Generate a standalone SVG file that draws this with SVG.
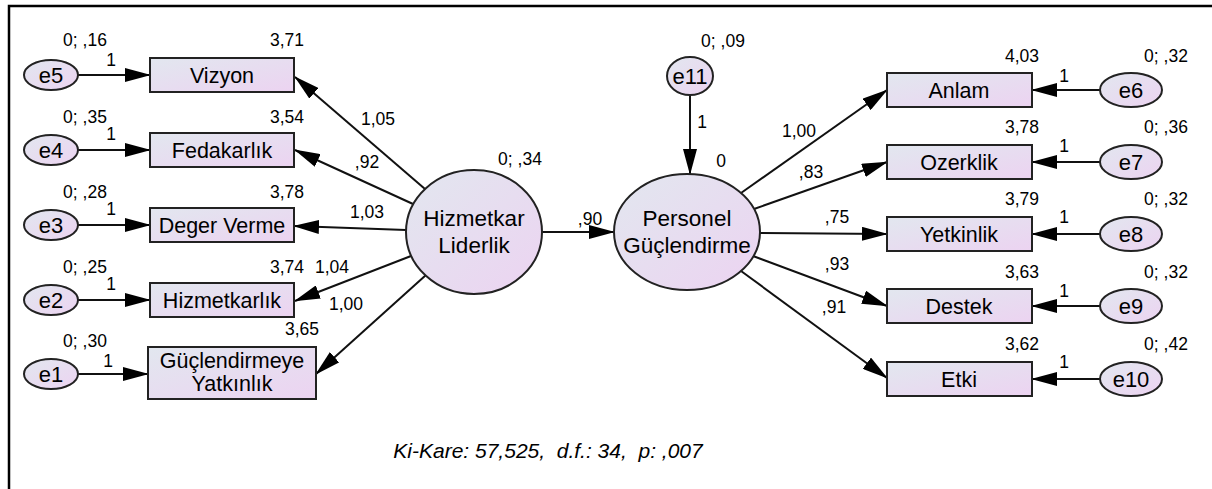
<svg xmlns="http://www.w3.org/2000/svg" width="1212" height="489" viewBox="0 0 1212 489">
<style>
text{font-family:"Liberation Sans",Arial,sans-serif;fill:#000}
.bx{font-size:21.5px;text-anchor:middle}
.lt{font-size:22.5px;text-anchor:middle}
.el{font-size:22px;text-anchor:middle}
.nm{font-size:17.5px;text-anchor:middle}
.node{stroke:#222;stroke-width:2;fill:url(#g)}
.c line{stroke:#111;stroke-width:2;marker-end:url(#a)}
.ft{font-size:21px;font-style:italic;text-anchor:middle;white-space:pre}
</style>
<defs>
<linearGradient id="g" x1="0" y1="0" x2="1" y2="1">
<stop offset="0" stop-color="#e2e7ef"/>
<stop offset="1" stop-color="#ecd3f1"/>
</linearGradient>
<marker id="a" markerUnits="userSpaceOnUse" markerWidth="26" markerHeight="14" refX="25" refY="7" orient="auto" viewBox="0 0 26 14">
<path d="M0,0 L26,7 L0,14 Z" fill="#000"/>
</marker>
</defs>
<rect width="1212" height="489" fill="#fff"/>
<path d="M9,489 V6 H1212" fill="none" stroke="#000" stroke-width="2.5"/>

<g class="c" id="connectors">
<line x1="78" y1="75" x2="150" y2="75"/>
<line x1="78" y1="150" x2="150" y2="150"/>
<line x1="78" y1="225" x2="150" y2="225"/>
<line x1="78" y1="300" x2="150" y2="300"/>
<line x1="78" y1="374" x2="148" y2="374"/>
<line x1="425" y1="189" x2="295" y2="77"/>
<line x1="413" y1="204" x2="295" y2="150"/>
<line x1="406" y1="230" x2="294" y2="226"/>
<line x1="411" y1="256" x2="295" y2="301"/>
<line x1="426" y1="275" x2="316" y2="374"/>
<line x1="542" y1="232" x2="614" y2="232"/>
<line x1="690" y1="95" x2="690" y2="174"/>
<line x1="741" y1="193" x2="887" y2="90"/>
<line x1="754" y1="209" x2="887" y2="162"/>
<line x1="760" y1="233" x2="887" y2="234"/>
<line x1="753" y1="256" x2="887" y2="306"/>
<line x1="741" y1="271" x2="887" y2="378"/>
<line x1="1100" y1="90" x2="1032" y2="90"/>
<line x1="1100" y1="162" x2="1032" y2="162"/>
<line x1="1100" y1="234" x2="1032" y2="234"/>
<line x1="1100" y1="306" x2="1032" y2="306"/>
<line x1="1100" y1="379" x2="1032" y2="379"/>
</g>

<g id="connector-labels">
<text class="nm" x="111" y="66">1</text>
<text class="nm" x="111" y="140">1</text>
<text class="nm" x="111" y="215">1</text>
<text class="nm" x="111" y="290">1</text>
<text class="nm" x="108" y="367">1</text>
<text class="nm" x="378" y="125">1,05</text>
<text class="nm" x="367" y="168">,92</text>
<text class="nm" x="367" y="218">1,03</text>
<text class="nm" x="332" y="273">1,04</text>
<text class="nm" x="346" y="310">1,00</text>
<text class="nm" x="590" y="225">,90</text>
<text class="nm" x="702" y="128">1</text>
<text class="nm" x="799" y="137">1,00</text>
<text class="nm" x="811" y="178">,83</text>
<text class="nm" x="837" y="223">,75</text>
<text class="nm" x="837" y="270">,93</text>
<text class="nm" x="834" y="313">,91</text>
<text class="nm" x="1064" y="82">1</text>
<text class="nm" x="1064" y="152">1</text>
<text class="nm" x="1064" y="223">1</text>
<text class="nm" x="1064" y="297">1</text>
<text class="nm" x="1064" y="368">1</text>
</g>

<g id="e5"><ellipse class="node" cx="51" cy="75" rx="27" ry="15"/><text class="el" x="51" y="83">e5</text><text class="nm" x="85" y="46">0; ,16</text></g>
<g id="e4"><ellipse class="node" cx="51" cy="150" rx="27" ry="15"/><text class="el" x="51" y="158">e4</text><text class="nm" x="85" y="123">0; ,35</text></g>
<g id="e3"><ellipse class="node" cx="51" cy="225" rx="27" ry="15"/><text class="el" x="51" y="233">e3</text><text class="nm" x="85" y="198">0; ,28</text></g>
<g id="e2"><ellipse class="node" cx="51" cy="300" rx="27" ry="15"/><text class="el" x="51" y="308">e2</text><text class="nm" x="85" y="273">0; ,25</text></g>
<g id="e1"><ellipse class="node" cx="51" cy="374" rx="27" ry="15"/><text class="el" x="51" y="382">e1</text><text class="nm" x="85" y="347">0; ,30</text></g>

<g id="vizyon"><rect class="node" x="150" y="58" width="144" height="34"/><text class="bx" x="222" y="83">Vizyon</text><text class="nm" x="287" y="46">3,71</text></g>
<g id="fedakarlik"><rect class="node" x="150" y="133" width="144" height="34"/><text class="bx" x="222" y="158">Fedakarlık</text><text class="nm" x="287" y="123">3,54</text></g>
<g id="deger-verme"><rect class="node" x="150" y="208" width="144" height="34"/><text class="bx" x="222" y="233">Deger Verme</text><text class="nm" x="287" y="198">3,78</text></g>
<g id="hizmetkarlik"><rect class="node" x="150" y="283" width="144" height="34"/><text class="bx" x="222" y="308">Hizmetkarlık</text><text class="nm" x="287" y="273">3,74</text></g>
<g id="guclendirmeye"><rect class="node" x="148" y="347" width="168" height="52"/><text class="bx" x="232" y="368">Güçlendirmeye</text><text class="bx" x="232" y="391">Yatkınlık</text><text class="nm" x="302" y="335">3,65</text></g>

<g id="hizmetkar-liderlik"><ellipse class="node" cx="474" cy="232" rx="68" ry="62"/><text class="lt" x="474" y="226">Hizmetkar</text><text class="lt" x="474" y="253">Liderlik</text><text class="nm" x="520" y="165">0; ,34</text></g>
<g id="e11"><ellipse class="node" cx="690" cy="76" rx="23" ry="19"/><text class="el" x="690" y="84">e11</text><text class="nm" x="723" y="47">0; ,09</text></g>
<g id="personel-guclendirme"><ellipse class="node" cx="687" cy="232" rx="73" ry="58"/><text class="lt" x="687" y="226">Personel</text><text class="lt" x="687" y="253">Güçlendirme</text><text class="nm" x="721" y="167">0</text></g>

<g id="anlam"><rect class="node" x="887" y="73" width="145" height="34"/><text class="bx" x="959" y="98">Anlam</text><text class="nm" x="1022" y="62">4,03</text></g>
<g id="ozerklik"><rect class="node" x="887" y="145" width="145" height="34"/><text class="bx" x="959" y="170">Ozerklik</text><text class="nm" x="1022" y="133">3,78</text></g>
<g id="yetkinlik"><rect class="node" x="887" y="217" width="145" height="34"/><text class="bx" x="959" y="242">Yetkinlik</text><text class="nm" x="1022" y="205">3,79</text></g>
<g id="destek"><rect class="node" x="887" y="289" width="145" height="34"/><text class="bx" x="959" y="314">Destek</text><text class="nm" x="1022" y="278">3,63</text></g>
<g id="etki"><rect class="node" x="887" y="362" width="145" height="34"/><text class="bx" x="959" y="387">Etki</text><text class="nm" x="1022" y="350">3,62</text></g>

<g id="e6"><ellipse class="node" cx="1131" cy="90" rx="31" ry="17"/><text class="el" x="1131" y="98">e6</text><text class="nm" x="1166" y="62">0; ,32</text></g>
<g id="e7"><ellipse class="node" cx="1131" cy="162" rx="31" ry="17"/><text class="el" x="1131" y="170">e7</text><text class="nm" x="1166" y="133">0; ,36</text></g>
<g id="e8"><ellipse class="node" cx="1131" cy="234" rx="31" ry="17"/><text class="el" x="1131" y="242">e8</text><text class="nm" x="1166" y="205">0; ,32</text></g>
<g id="e9"><ellipse class="node" cx="1131" cy="306" rx="31" ry="17"/><text class="el" x="1131" y="314">e9</text><text class="nm" x="1166" y="278">0; ,32</text></g>
<g id="e10"><ellipse class="node" cx="1131" cy="379" rx="31" ry="17"/><text class="el" x="1131" y="387">e10</text><text class="nm" x="1166" y="350">0; ,42</text></g>

<text class="ft" x="548" y="458">Ki-Kare: 57,525,  d.f.: 34,  p: ,007</text>
</svg>
